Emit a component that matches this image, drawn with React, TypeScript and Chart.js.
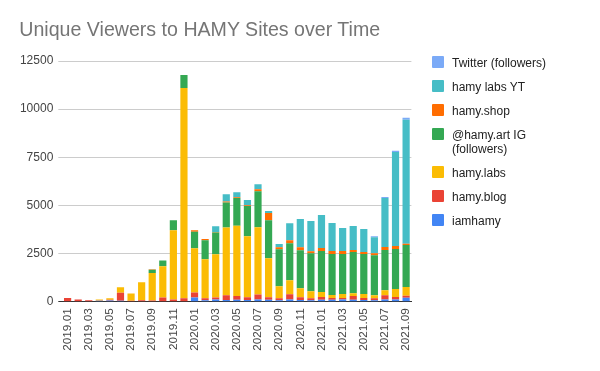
import React, { useEffect, useRef } from 'react';
import { Chart, registerables } from 'chart.js';

Chart.register(...registerables);

const months = [
  '2019.01', '2019.02', '2019.03', '2019.04', '2019.05', '2019.06', '2019.07', '2019.08', '2019.09', '2019.10', '2019.11', '2019.12',
  '2020.01', '2020.02', '2020.03', '2020.04', '2020.05', '2020.06', '2020.07', '2020.08', '2020.09', '2020.10', '2020.11', '2020.12',
  '2021.01', '2021.02', '2021.03', '2021.04', '2021.05', '2021.06', '2021.07', '2021.08', '2021.09',
];

const iamhamy = [0, 0, 0, 50, 60, 50, 0, 0, 0, 0, 0, 0, 220, 70, 110, 90, 100, 90, 110, 100, 70, 110, 90, 70, 100, 100, 120, 100, 90, 70, 120, 120, 200];
const hamyBlog = [190, 120, 70, 10, 40, 420, 50, 70, 60, 220, 120, 180, 260, 110, 110, 250, 200, 140, 270, 130, 110, 280, 140, 110, 140, 90, 70, 190, 100, 110, 220, 120, 110];
const hamyLabs = [0, 0, 0, 50, 80, 275, 380, 940, 1430, 1615, 3585, 10920, 2290, 2030, 2240, 3515, 3640, 3175, 3480, 2030, 625, 725, 470, 365, 260, 155, 210, 155, 210, 155, 260, 420, 450];
const hamyArtIG = [0, 0, 0, 0, 0, 0, 0, 0, 170, 310, 520, 675, 867, 985, 1140, 1300, 1440, 1560, 1875, 1975, 1925, 1925, 1975, 1975, 2135, 2135, 2080, 2130, 2080, 2080, 2080, 2080, 2185];
const hamyShop = [0, 0, 0, 0, 0, 0, 0, 0, 30, 0, 0, 0, 70, 55, 20, 55, 50, 50, 105, 365, 100, 155, 155, 105, 155, 155, 155, 110, 100, 105, 155, 155, 70];
const hamyLabsYT = [0, 0, 0, 0, 0, 0, 0, 0, 0, 0, 0, 0, 0, 0, 300, 365, 260, 260, 260, 105, 160, 885, 1460, 1560, 1715, 1455, 1195, 1245, 1200, 830, 2550, 4885, 6430];
const twitter = [0, 0, 0, 0, 0, 0, 0, 0, 0, 0, 0, 0, 0, 0, 0, 0, 0, 0, 0, 0, 0, 0, 0, 0, 0, 0, 0, 0, 0, 55, 50, 55, 105];

const seriesNames = ['iamhamy', 'hamy.blog', 'hamy.labs', '@hamy.art IG (followers)', 'hamy.shop', 'hamy labs YT', 'Twitter (followers)'];
const seriesData = [iamhamy, hamyBlog, hamyLabs, hamyArtIG, hamyShop, hamyLabsYT, twitter];
const seriesColors = ['#4285F4', '#EA4335', '#FBBC04', '#34A853', '#FF6D01', '#46BDC6', '#7BAAF7'];

const yTicks = [0, 2500, 5000, 7500, 10000, 12500];

const FONT = '"Liberation Sans", Arial, sans-serif';

const legendTops = [55.7, 79.7, 103.7, 127.7, 165.7, 189.7, 213.7];

export default function App() {
  const ref = useRef<HTMLCanvasElement>(null);

  useEffect(() => {
    const chart = new Chart(ref.current!, {
      type: 'bar',
      data: {
        labels: months,
        datasets: seriesNames.map((name, i) => ({
          label: name,
          data: seriesData[i],
          backgroundColor: seriesColors[i],
          borderWidth: 0,
          categoryPercentage: 1,
          barPercentage: 0.68,
        })),
      },
      options: {
        responsive: false,
        animation: false,
        layout: { padding: { left: 0, right: 188.6, top: 61, bottom: 0 } },
        plugins: {
          legend: { display: false },
          title: { display: false },
          tooltip: { enabled: false },
        },
        scales: {
          x: {
            stacked: true,
            grid: { display: false, drawTicks: false },
            border: { display: true, color: '#333333', width: 1 },
            ticks: {
              autoSkip: false,
              maxRotation: 90,
              minRotation: 90,
              padding: 6.5,
              color: '#444444',
              font: { family: FONT, size: 11.8 },
              callback: (_v: any, i: number) => (i % 2 === 0 ? months[i] : ''),
            },
            afterFit: (s: any) => {
              s.height = 69.3;
            },
          },
          y: {
            stacked: true,
            min: yTicks[0],
            max: yTicks[yTicks.length - 1],
            afterBuildTicks: (s: any) => {
              s.ticks = yTicks.map((v) => ({ value: v }));
            },
            ticks: {
              padding: 5,
              color: '#444444',
              font: { family: FONT, size: 12 },
              callback: (v: any) => String(v),
            },
            grid: {
              color: (ctx: any) => (ctx.tick && ctx.tick.value === 0 ? '#333333' : '#cccccc'),
              tickLength: 4,
            },
            border: { display: false },
            afterFit: (s: any) => {
              s.width = 62.3;
            },
          },
        },
      },
    });
    return () => chart.destroy();
  }, []);

  const legendOrder = seriesNames.map((_, i) => i).reverse();

  return (
    <div style={{ position: 'absolute', left: 0, top: 0, width: 600, height: 371, background: '#ffffff', fontFamily: FONT }}>
      <canvas ref={ref} width={600} height={371} style={{ position: 'absolute', left: 0, top: 0, width: 600, height: 371 }} />
      <div
        style={{
          position: 'absolute',
          left: 19.3,
          top: 20.1,
          fontSize: 19.6,
          lineHeight: '19.6px',
          color: '#757575',
          whiteSpace: 'nowrap',
        }}
      >
        Unique Viewers to HAMY Sites over Time
      </div>
      {legendOrder.map((idx, k) => (
        <div key={idx}>
          <div
            style={{
              position: 'absolute',
              left: 432.3,
              top: legendTops[k],
              width: 12,
              height: 12,
              borderRadius: 1,
              background: seriesColors[idx],
            }}
          />
          <div
            style={{
              position: 'absolute',
              left: 452,
              top: legendTops[k] + 0.1,
              width: 120,
              fontSize: 12,
              lineHeight: '14px',
              color: '#222222',
            }}
          >
            {seriesNames[idx]}
          </div>
        </div>
      ))}
    </div>
  );
}
